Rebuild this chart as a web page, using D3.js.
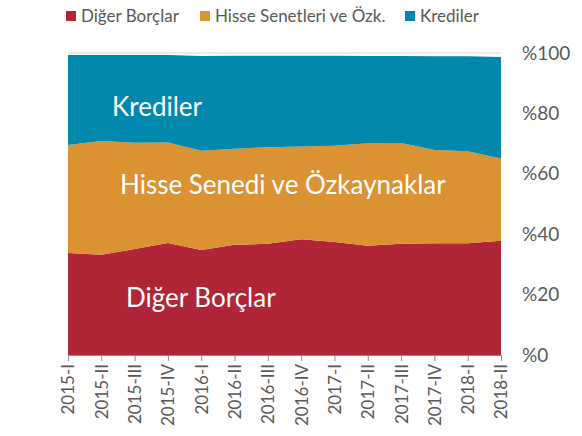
<!DOCTYPE html>
<html>
<head>
<meta charset="utf-8">
<script src="https://cdn.jsdelivr.net/npm/d3@7"></script>
<style>
  body { margin: 0; background: #fff; }
  svg { font-family: Lato, "Open Sans", sans-serif; }
</style>
</head>
<body>
<div id="app"></div>
<script>
const width = 582;
const height = 436;

// quarters
const quarters = ["2015-I", "2015-II", "2015-III", "2015-IV", "2016-I", "2016-II", "2016-III",
  "2016-IV", "2017-I", "2017-II", "2017-III", "2017-IV", "2018-I", "2018-II"];

// shares, %
const digerBorclar = [33.8, 33.2, 35.1, 37.1, 34.8, 36.5, 36.8, 38.3, 37.4, 36.2, 36.8, 37.0, 37.0, 37.8];
const hisseSenetleri = [35.7, 37.7, 35.2, 33.3, 32.8, 31.8, 32.0, 30.7, 31.9, 33.9, 33.4, 30.9, 30.5, 27.3];
const krediler = [29.8, 28.4, 29.0, 28.9, 31.4, 30.8, 30.3, 30.1, 29.8, 28.9, 28.8, 31.0, 31.4, 33.6];

const seriesNames = ["Diğer Borçlar", "Hisse Senetleri ve Özk.", "Krediler"];
const areaLabels = ["Diğer Borçlar", "Hisse Senedi ve Özkaynaklar", "Krediler"];
const yTicks = [0, 20, 40, 60, 80, 100];
const colors = ["#b02537", "#da9233", "#0089ad"];

const margin = { top: 53, right: 81, bottom: 81, left: 68 };

document.getElementById("app").innerHTML = `<svg width="${width}" height="${height}"></svg>`;
const svg = d3.select("svg");

const rows = quarters.map((q, i) => ({
  q,
  d: digerBorclar[i],
  h: hisseSenetleri[i],
  k: krediler[i]
}));
const stack = d3.stack().keys(["d", "h", "k"]);
const layers = stack(rows);

const x = d3.scalePoint()
  .domain(quarters)
  .range([margin.left, width - margin.right]);
const y = d3.scaleLinear()
  .domain([0, 100])
  .range([height - margin.bottom, margin.top]);

// top gridline
svg.append("line")
  .attr("x1", x.range()[0])
  .attr("x2", x.range()[1])
  .attr("y1", y(100))
  .attr("y2", y(100))
  .attr("stroke", "#d9d9d9")
  .attr("stroke-width", 1);

const area = d3.area()
  .x(d => x(d.data.q))
  .y0(d => y(d[0]))
  .y1(d => y(d[1]));

svg.append("g")
  .selectAll("path")
  .data(layers)
  .enter()
  .append("path")
  .attr("fill", (_, i) => colors[i])
  .attr("d", area);

// x axis
const xAxis = svg.append("g")
  .attr("transform", `translate(0,${y(0)})`)
  .call(d3.axisBottom(x).tickSize(6).tickSizeOuter(0));
xAxis.select(".domain").attr("stroke", "#8c8c8c");
xAxis.selectAll(".tick line").attr("stroke", "#8c8c8c");
xAxis.selectAll(".tick text")
  .attr("transform", "rotate(-90)")
  .attr("text-anchor", "end")
  .attr("x", -9)
  .attr("y", 0)
  .attr("dy", "0.35em")
  .attr("fill", "#595959")
  .style("font-size", "17px")
  .style("font-family", "Lato, sans-serif");

// y axis on the right, labels only
const yAxis = svg.append("g")
  .attr("transform", `translate(${width - margin.right},0)`)
  .call(d3.axisRight(y).tickValues(yTicks).tickSize(0).tickPadding(21).tickFormat(d => "%" + d));
yAxis.select(".domain").remove();
yAxis.selectAll(".tick text")
  .attr("fill", "#595959")
  .style("font-size", "19px")
  .style("font-family", "Lato, sans-serif");

// labels inside the areas
const labelPos = [
  { x: 126, y: 298 },
  { x: 120, y: 185 },
  { x: 112, y: 107 }
];
svg.append("g")
  .selectAll("text")
  .data(areaLabels)
  .enter()
  .append("text")
  .attr("x", (_, i) => labelPos[i].x)
  .attr("y", (_, i) => labelPos[i].y)
  .attr("dy", "0.35em")
  .attr("fill", "#fff")
  .style("font-size", "26px")
  .text(d => d);

// legend
const legendX = [66, 200, 405];
const legend = svg.append("g")
  .selectAll("g")
  .data(seriesNames)
  .enter()
  .append("g")
  .attr("transform", (_, i) => `translate(${legendX[i]},11)`);
legend.append("rect")
  .attr("width", 10)
  .attr("height", 10)
  .attr("fill", (_, i) => colors[i]);
legend.append("text")
  .attr("x", 15)
  .attr("y", 5)
  .attr("dy", "0.35em")
  .attr("fill", "#595959")
  .style("font-size", "17px")
  .text(d => d);
</script>
</body>
</html>
